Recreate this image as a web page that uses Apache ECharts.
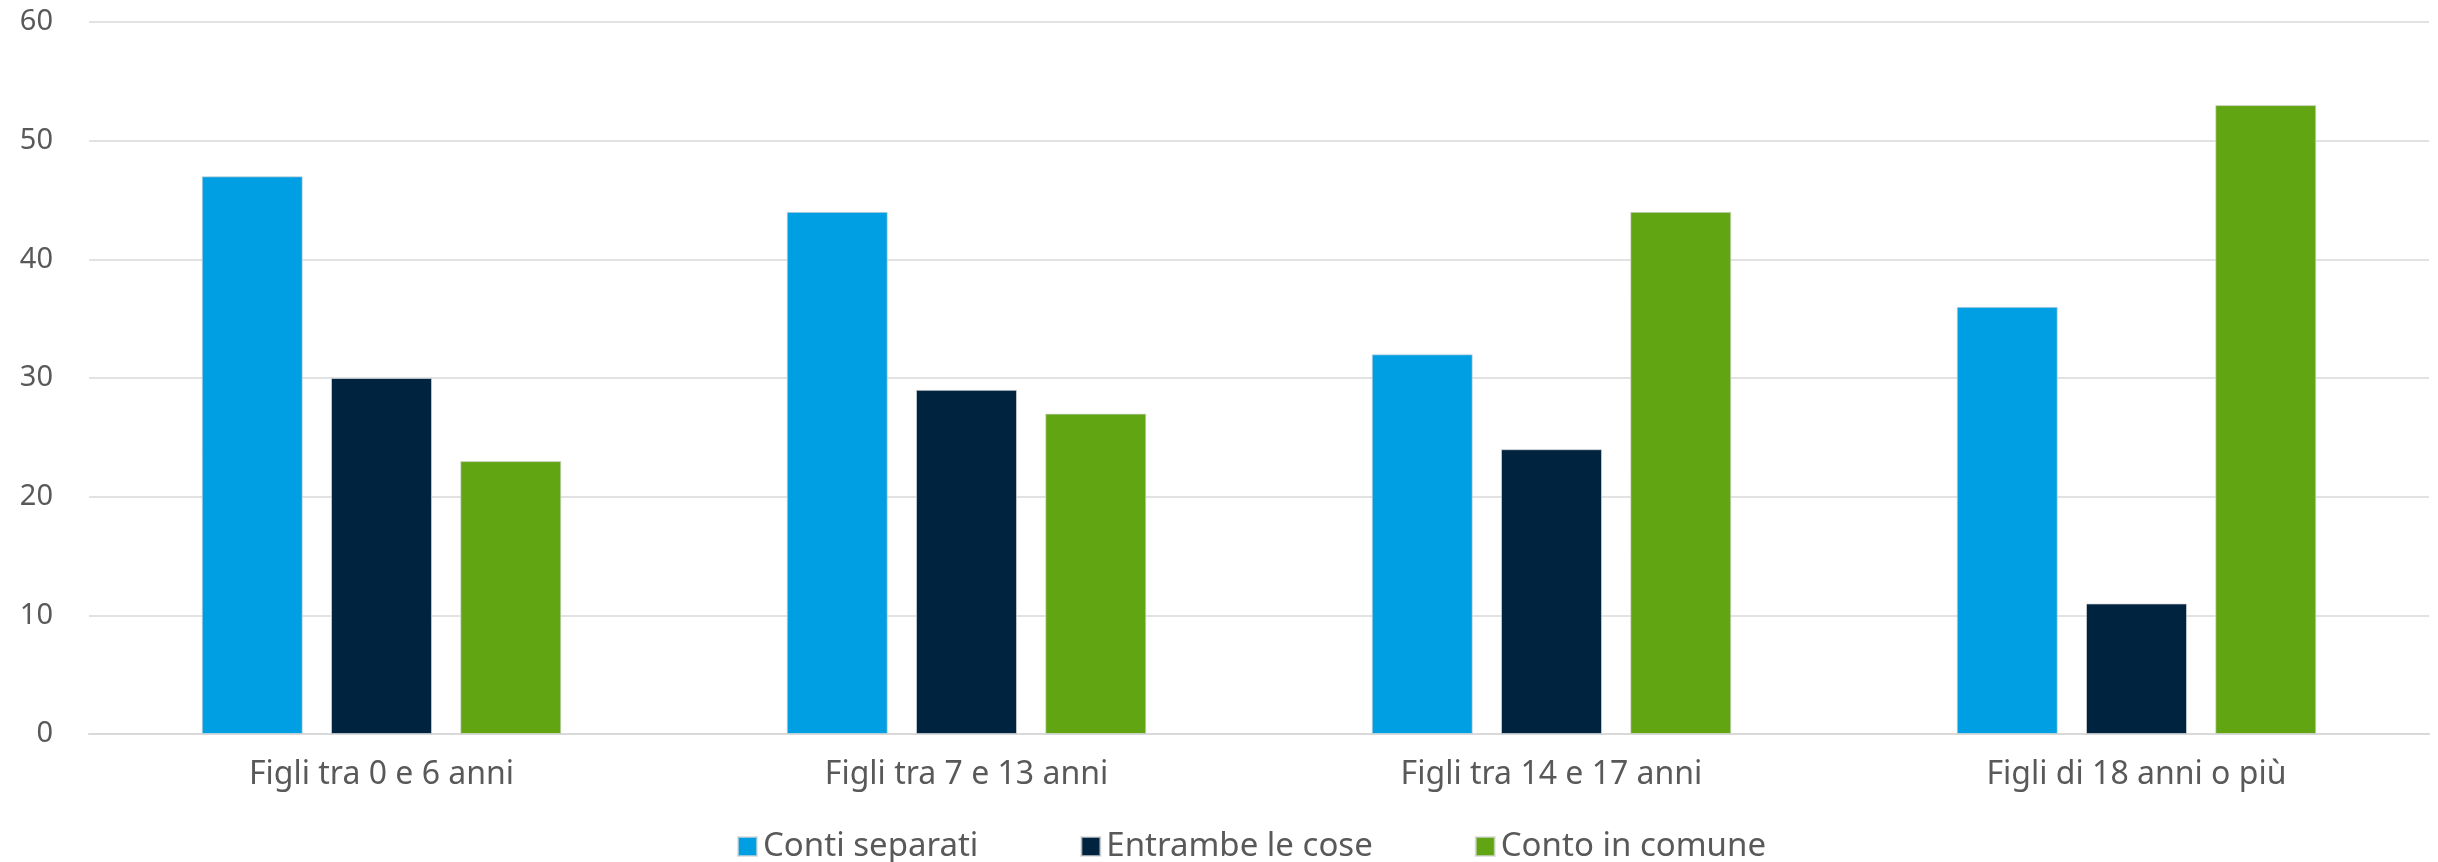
<!DOCTYPE html>
<html>
<head>
<meta charset="utf-8">
<script src="https://cdn.jsdelivr.net/npm/echarts@6/dist/echarts.min.js"></script>
<style>
html,body{margin:0;padding:0;background:#fff;}
#chart{width:2438px;height:862px;}
</style>
</head>
<body>
<div id="chart"></div>
<script>
const categories = ["Figli tra 0 e 6 anni", "Figli tra 7 e 13 anni", "Figli tra 14 e 17 anni", "Figli di 18 anni o più"];
const contiSeparati = [47, 44, 32, 36];
const entrambeLeCose = [30, 29, 24, 11];
const contoInComune = [23, 27, 44, 53];
const seriesNames = ["Conti separati", "Entrambe le cose", "Conto in comune"];
const colors = ["#009FE3", "#00233F", "#62A512"];

const chart = echarts.init(document.getElementById('chart'), null, {renderer: 'canvas'});
const textColor = '#595959';
const fontFamily = '"Noto Sans", Lato, sans-serif';

function bar(name, data, color) {
  return {
    name: name,
    type: 'bar',
    data: data,
    barWidth: 101,
    barGap: '28%',
    itemStyle: {color: color, borderColor: 'rgba(215,215,215,0.7)', borderWidth: 1}
  };
}

chart.setOption({
  animation: false,
  backgroundColor: '#ffffff',
  color: colors,
  textStyle: {fontFamily: fontFamily},
  grid: {left: 89, right: 9, top: 22, bottom: 128, outerBoundsMode: 'none'},
  legend: {
    top: 825,
    left: 732,
    itemWidth: 19,
    itemHeight: 19,
    itemGap: 102,
    icon: 'rect',
    textStyle: {color: textColor, fontSize: 33, fontFamily: fontFamily, padding: [0, 0, 0, 1]},
    data: seriesNames
  },
  xAxis: {
    type: 'category',
    data: categories,
    axisLine: {show: true, lineStyle: {color: '#d9d9d9', width: 2}},
    axisTick: {show: false},
    axisLabel: {color: textColor, fontSize: 32, margin: 25, fontFamily: fontFamily}
  },
  yAxis: {
    type: 'value',
    min: 0,
    max: 60,
    interval: 10,
    axisLine: {show: false},
    axisTick: {show: false},
    axisLabel: {color: textColor, fontSize: 29, margin: 36, fontFamily: fontFamily},
    splitLine: {lineStyle: {color: '#d9d9d9', width: 1.5}}
  },
  series: [
    bar(seriesNames[0], contiSeparati, colors[0]),
    bar(seriesNames[1], entrambeLeCose, colors[1]),
    bar(seriesNames[2], contoInComune, colors[2])
  ]
});
</script>
</body>
</html>
